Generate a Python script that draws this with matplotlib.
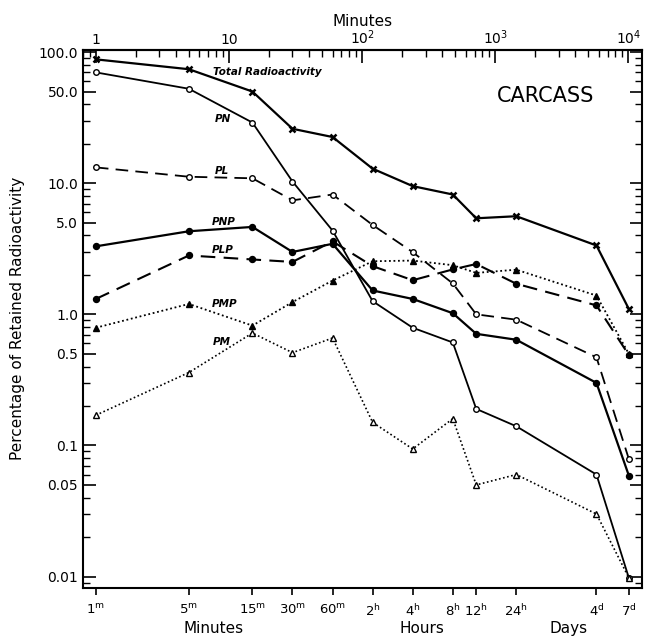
import matplotlib
matplotlib.use('Agg')
import matplotlib.pyplot as plt
from matplotlib.ticker import FixedLocator, LogLocator, NullFormatter, FixedFormatter

# ================= Data =================
minutes = [1, 5, 15, 30, 60, 120, 240, 480, 720, 1440, 5760, 10080]
time_labels = ['1$^{\\rm m}$', '5$^{\\rm m}$', '15$^{\\rm m}$', '30$^{\\rm m}$', '60$^{\\rm m}$',
               '2$^{\\rm h}$', '4$^{\\rm h}$', '8$^{\\rm h}$', '12$^{\\rm h}$', '24$^{\\rm h}$',
               '4$^{\\rm d}$', '7$^{\\rm d}$']

total = [88, 74, 50, 26, 22.5, 12.9, 9.5, 8.2, 5.4, 5.6, 3.35, 1.1]
pn = [70, 52.5, 29, 10.3, 4.35, 1.26, 0.79, 0.61, 0.19, 0.14, 0.060, 0.0098]
pl = [13.2, 11.2, 10.9, 7.4, 8.2, 4.8, 2.98, 1.72, 1.0, 0.91, 0.47, 0.079]
pnp = [3.3, 4.3, 4.64, 2.99, 3.45, 1.52, 1.31, 1.02, 0.71, 0.64, 0.30, 0.059]
plp = [1.31, 2.81, 2.62, 2.51, 3.6, 2.33, 1.82, 2.2, 2.42, 1.71, 1.17, 0.49]
pmp = [0.79, 1.2, 0.82, 1.24, 1.81, 2.54, 2.57, 2.37, 2.07, 2.19, 1.39, 0.5]
pm = [0.17, 0.36, 0.72, 0.51, 0.66, 0.15, 0.094, 0.16, 0.050, 0.060, 0.030, 0.0098]

y_major = [0.01, 0.05, 0.1, 0.5, 1, 5, 10, 50, 100]
y_labels = ['0.01', '0.05', '0.1', '0.5', '1.0', '5.0', '10.0', '50.0', '100.0']
top_ticks = [1, 10, 100, 1000, 10000]
top_labels = ['1', '10', '10$^2$', '10$^3$', '10$^4$']

# ================= Figure =================
fig = plt.figure(figsize=(6.48, 6.39), dpi=100)
ax = fig.add_axes([0.128, 0.080, 0.863, 0.842])
ax.set_xscale('log')
ax.set_yscale('log')

k = 'black'
ax.plot(minutes, total, '-', color=k, lw=1.6, marker='x', ms=3.8, mew=1.8)
ax.plot(minutes, pn, '-', color=k, lw=1.3, marker='o', ms=4, mfc='white', mew=1.0)
ax.plot(minutes, pl, color=k, lw=1.3, ls=(0, (7, 4)), marker='o', ms=4, mfc='white', mew=1.0)
ax.plot(minutes, pnp, '-', color=k, lw=1.6, marker='o', ms=4.3)
ax.plot(minutes, plp, color=k, lw=1.5, ls=(0, (7, 4)), marker='o', ms=4.3)
ax.plot(minutes, pmp, color=k, lw=1.3, ls=(0, (1, 1.5)), marker='^', ms=4.3)
ax.plot(minutes, pm, color=k, lw=1.2, ls=(0, (1, 1.5)), marker='^', ms=4.3, mfc='white', mew=1.0)

ax.set_xlim(0.8, 12700)
ax.set_ylim(0.0082, 104)

# bottom ticks at sampling times
ax.xaxis.set_major_locator(FixedLocator(minutes))
ax.xaxis.set_major_formatter(FixedFormatter(time_labels))
ax.xaxis.set_minor_locator(FixedLocator([]))
ax.tick_params(axis='x', which='major', direction='out', length=5, width=1.2,
               labelsize=9.5, pad=6)

ax.yaxis.set_major_locator(FixedLocator(y_major))
ax.yaxis.set_major_formatter(FixedFormatter(y_labels))
ax.yaxis.set_minor_locator(LogLocator(base=10, subs=(2, 3, 4, 6, 7, 8, 9)))
ax.yaxis.set_minor_formatter(NullFormatter())
ax.tick_params(axis='y', which='major', direction='in', length=9, width=1.2,
               labelsize=10, right=True)
ax.tick_params(axis='y', which='minor', direction='in', length=5, width=1.0, right=True)

for s in ax.spines.values():
    s.set_linewidth(1.5)

# top minutes axis
top = ax.secondary_xaxis('top')
top.xaxis.set_major_locator(FixedLocator(top_ticks))
top.xaxis.set_major_formatter(FixedFormatter(top_labels))
top.xaxis.set_minor_locator(LogLocator(base=10, subs=(2, 3, 4, 5, 6, 7, 8, 9)))
top.xaxis.set_minor_formatter(NullFormatter())
top.tick_params(which='major', direction='in', length=9, width=1.2, labelsize=10, pad=2)
top.tick_params(which='minor', direction='in', length=5, width=1.0)
top.spines['top'].set_linewidth(1.5)
top.set_xlabel('Minutes', fontsize=11, labelpad=2)

ax.set_ylabel('Percentage of Retained Radioactivity', fontsize=11, labelpad=10)

# series labels
lab = dict(fontsize=7.5, style='italic', fontweight='bold', ha='left', va='center')
ax.text(7.6, 71, 'Total Radioactivity', **lab)
ax.text(7.8, 31, 'PN', **lab)
ax.text(7.8, 12.4, 'PL', **lab)
ax.text(7.4, 5.1, 'PNP', **lab)
ax.text(7.4, 3.1, 'PLP', **lab)
ax.text(7.4, 1.2, 'PMP', **lab)
ax.text(7.6, 0.62, 'PM', **lab)
ax.text(2376, 46, 'CARCASS', fontsize=15, ha='center', va='center')

fig.text(0.330, 0.017, 'Minutes', fontsize=11, ha='center', va='center')
fig.text(0.651, 0.017, 'Hours', fontsize=11, ha='center', va='center')
fig.text(0.878, 0.017, 'Days', fontsize=11, ha='center', va='center')

fig.savefig('out.png', dpi=100)
